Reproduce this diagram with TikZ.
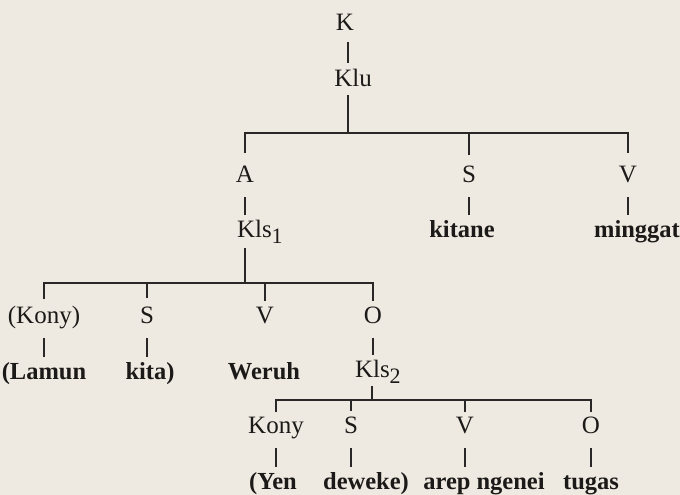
\documentclass[tikz,border=0pt]{standalone}
\usepackage{fontspec}
\setmainfont{Liberation Serif}
\newcommand\labfont{\fontsize{25}{28}\selectfont}
\newcommand\wordfont{\fontsize{24.5}{28}\selectfont\bfseries}
\newcommand\subidx[1]{\raisebox{-6pt}{\fontsize{22}{22}\selectfont #1}}
\definecolor{paper}{HTML}{EFEAE1}
\definecolor{ink}{HTML}{1C1A18}
\definecolor{rule}{HTML}{2A2826}
\begin{document}
\begin{tikzpicture}[x=1pt,y=1pt,
  every node/.style={inner sep=0pt, outer sep=0pt, text=ink,
                     text height=17pt, text depth=0pt, anchor=base},
  lab/.style={font=\labfont},
  wrd/.style={font=\wordfont},
  branch/.style={draw=rule, line width=1.7pt},
  link/.style={branch, shorten <=15pt, shorten >=5pt}]

% paper
\fill[paper] (0,0) rectangle (680,-495);

% level 0
\node[lab] (K)   at (345,-31) {K};
\node[lab] (Klu) at (353,-87) {Klu};
\coordinate (top) at (348,-133);

% level 1
\node[lab] (A)  at (245,-182) {A};
\node[lab] (S1) at (469,-182) {S};
\node[lab] (V1) at (628,-182) {V};
\node[lab, anchor=base west] (Kls1) at (237,-237) {Kls\subidx{1}};
\node[wrd] (kitane)  at (462,-237) {kitane};
\node[wrd] (minggat) at (637,-237) {minggat};
\coordinate (bar2) at (245,-283);

% level 2
\node[lab] (Kony1) at (44,-323)  {(Kony)};
\node[lab] (S2)    at (147,-323) {S};
\node[lab] (V2)    at (265,-323) {V};
\node[lab] (O2)    at (373,-323) {O};
\node[wrd] (Lamun) at (44,-379)  {(Lamun};
\node[wrd] (kita)  at (150,-379) {kita)};
\node[wrd] (Weruh) at (264,-379) {Weruh};
\node[lab, anchor=base west] (Kls2) at (355,-377) {Kls\subidx{2}};
\coordinate (bar3) at (372,-400);

% level 3
\node[lab] (Kony2) at (276,-433) {Kony};
\node[lab] (S3)    at (351,-433) {S};
\node[lab] (V3)    at (465,-433) {V};
\node[lab] (O3)    at (591,-433) {O};
\node[wrd] (Yen)    at (273,-489) {(Yen};
\node[wrd] (deweke) at (366,-489) {deweke)};
\node[wrd] (arep)   at (484,-489) {arep ngenei};
\node[wrd] (tugas)  at (591,-489) {tugas};

% K -- Klu and the first fork
\draw[branch, shorten <=11pt, shorten >=7pt] (K.south -| top) -- (Klu.north -| top);
\draw[branch, shorten <=8pt] (Klu.south -| top) -- (top);
\draw[branch, shorten <=12pt, shorten >=12pt]
  (A.north) -- (A.north |- top) -| (V1.north);
\draw[branch, shorten <=10pt] (S1.north) -- (S1.north |- top);

% category to filler links, level 1
\draw[link] (A.south)  -- (A.south |- Kls1.north);
\draw[link] (S1.south) -- (S1.south |- kitane.north);
\draw[link] (V1.south) -- (V1.south |- minggat.north);

% second fork, under Kls1
\draw[branch, shorten <=11pt] (Kls1.south -| bar2) -- (bar2);
\draw[branch, shorten <=7pt, shorten >=5pt]
  (Kony1.north) -- (Kony1.north |- bar2) -| (O2.north);
\draw[branch, shorten <=8pt] (S2.north) -- (S2.north |- bar2);
\draw[branch, shorten <=5pt] (V2.north) -- (V2.north |- bar2);

% category to filler links, level 2 (V has none)
\draw[link] (Kony1.south) -- (Kony1.south |- Lamun.north);
\draw[link] (S2.south)    -- (S2.south |- kita.north);
\draw[link] (O2.south)    -- (O2.south |- Kls2.north);

% third fork, under Kls2
\draw[branch, shorten <=9pt] (Kls2.south -| bar3) -- (bar3);
\draw[branch, shorten <=4pt, shorten >=4pt]
  (Kony2.north) -- (Kony2.north |- bar3) -| (O3.north);
\draw[branch, shorten <=5pt] (S3.north) -- (S3.north |- bar3);
\draw[branch, shorten <=4pt] (V3.north) -- (V3.north |- bar3);

% category to filler links, level 3
\draw[link] (Kony2.south) -- (Kony2.south |- Yen.north);
\draw[link] (S3.south)    -- (S3.south |- deweke.north);
\draw[link] (V3.south)    -- (V3.south |- arep.north);
\draw[link] (O3.south)    -- (O3.south |- tugas.north);
\end{tikzpicture}
\end{document}
